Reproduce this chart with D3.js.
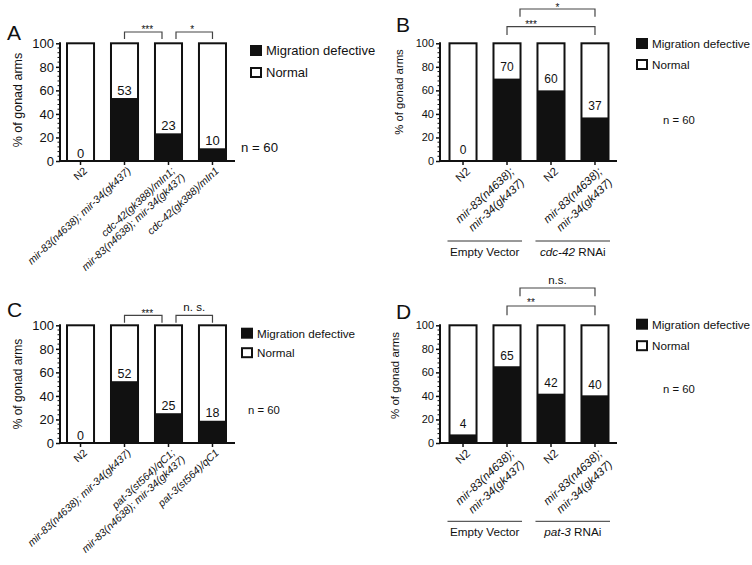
<!DOCTYPE html>
<html>
<head>
<meta charset="utf-8">
<script src="https://cdn.jsdelivr.net/npm/d3@7"></script>
<style>
  html, body { margin: 0; padding: 0; background: #fff; }
  svg { display: block; }
  text { font-family: "Liberation Sans", Arial, Helvetica, sans-serif; fill: #111; }
</style>
</head>
<body>
<svg id="chart" width="752" height="565"></svg>
<script>
// ---------------- DATA ----------------
const yTicks = [0, 20, 40, 60, 80, 100];
const legendLabels = ["Migration defective", "Normal"];
const nLabel = "n = 60";

// Panel A
const categoriesA = [["N2"], ["mir-83(n4638); mir-34(gk437)"], ["cdc-42(gk388)/mIn1;", "mir-83(n4638); mir-34(gk437)"], ["cdc-42(gk388)/mIn1"]];
const defectiveA = [0, 53.5, 23.5, 10.8];
const valueLabelsA = ["0", "53", "23", "10"];
const sigA = [{from: 1, to: 2, text: "***"}, {from: 2, to: 3, text: "*"}];

// Panel B
const categoriesB = [["N2"], ["mir-83(n4638);", "mir-34(gk437)"], ["N2"], ["mir-83(n4638);", "mir-34(gk437)"]];
const defectiveB = [0, 70, 60, 37];
const valueLabelsB = ["0", "70", "60", "37"];
const sigB = [{from: 1, to: 3, text: "***"}, {from: 2, to: 3, text: "*"}];
const groupsB = [{first: 0, last: 1, label: [["Empty Vector", false]]}, {first: 2, last: 3, label: [["cdc-42", true], [" RNAi", false]]}];

// Panel C
const categoriesC = [["N2"], ["mir-83(n4638); mir-34(gk437)"], ["pat-3(st564)/qC1;", "mir-83(n4638); mir-34(gk437)"], ["pat-3(st564)/qC1"]];
const defectiveC = [0, 52.5, 25.3, 18.9];
const valueLabelsC = ["0", "52", "25", "18"];
const sigC = [{from: 1, to: 2, text: "***"}, {from: 2, to: 3, text: "n. s."}];

// Panel D
const categoriesD = [["N2"], ["mir-83(n4638);", "mir-34(gk437)"], ["N2"], ["mir-83(n4638);", "mir-34(gk437)"]];
const defectiveD = [7.3, 65.2, 41.9, 40.5];
const valueLabelsD = ["4", "65", "42", "40"];
const sigD = [{from: 1, to: 3, text: "**"}, {from: 2, to: 3, text: "n.s."}];
const groupsD = [{first: 0, last: 1, label: [["Empty Vector", false]]}, {first: 2, last: 3, label: [["pat-3", true], [" RNAi", false]]}];

// ---------------- LAYOUT ----------------
const svg = d3.select("#chart");

const panels = [
  { letter: "A", cats: categoriesA, vals: defectiveA, labels: valueLabelsA, sig: sigA, groups: null,
    ax: 60, ay: 43.3, letterX: 7, letterY: 40,
    tickFont: 13, valFont: 13, valGap: 3.5, xFont: 10.5, lineGap: 1.1, legFont: 13, titleFont: 12.5,
    titleX: 22, titleY: 100,
    legX: 250, legY: 45, legGap: 22, nX: 241, nY: 152, nFont: 13.2,
    sigLevels: [{y: 32, leg: 7}, {y: 32, leg: 7}], starFont: 10 },
  { letter: "B", cats: categoriesB, vals: defectiveB, labels: valueLabelsB, sig: sigB, groups: groupsB,
    ax: 440, ay: 43.3, letterX: 396, letterY: 32,
    tickFont: 11, valFont: 12, valGap: 7.5, xFont: 11.5, lineGap: 1.3, legFont: 11.7, titleFont: 11.3,
    titleX: 403, titleY: 92,
    legX: 636, legY: 38, legGap: 21, nX: 663, nY: 124, nFont: 11.3,
    groupY: 241, groupTextY: 255.5, groupFont: 11.7,
    sigLevels: [{y: 26.7, leg: 8.3}, {y: 9, leg: 7.7}], starFont: 10 },
  { letter: "C", cats: categoriesC, vals: defectiveC, labels: valueLabelsC, sig: sigC, groups: null,
    ax: 60, ay: 325.3, letterX: 7, letterY: 317,
    tickFont: 13, valFont: 12.5, valGap: 3.5, xFont: 10.5, lineGap: 1.1, legFont: 11.7, titleFont: 12,
    titleX: 21.5, titleY: 384,
    legX: 241, legY: 327.7, legGap: 19.5, nX: 248, nY: 414, nFont: 11.3,
    sigLevels: [{y: 315.3, leg: 7.4}, {y: 315.3, leg: 7.4}], starFont: 10 },
  { letter: "D", cats: categoriesD, vals: defectiveD, labels: valueLabelsD, sig: sigD, groups: groupsD,
    ax: 440, ay: 325.3, letterX: 396, letterY: 318.7,
    tickFont: 11, valFont: 12, valGap: 6.5, xFont: 11.5, lineGap: 1.3, legFont: 11.7, titleFont: 11.5,
    titleX: 399, titleY: 375.5,
    legX: 636, legY: 318.7, legGap: 21.5, nX: 663, nY: 393, nFont: 11.3,
    groupY: 521.3, groupTextY: 536, groupFont: 11.7,
    sigLevels: [{y: 306, leg: 9.3}, {y: 288, leg: 8.3}], starFont: 10 }
];

// Bracket x endpoints (offsets from bar centres), per panel
const bracketXs = {
  A: [[0, -6.5], [7.5, 0]],
  B: [[0, 0], [-31, 0]],
  C: [[0, -6.5], [7.5, 0]],
  D: [[0, 0], [-31, 0]]
};
// Significance text offsets [dx from bracket centre, dy from bracket line]
const sigTextShift = {
  A: [[4, 1], [-2, 1]],
  B: [[-20, 1], [0, 1.5]],
  C: [[4, 1.5], [0, -2]],
  D: [[-20, 0], [0, -2]]
};

panels.forEach(p => {
  const g = svg.append("g");
  const isAC = (p.letter === "A" || p.letter === "C");
  const x0 = p.ax;
  const barStart = isAC ? 6 : 8.5;
  const x = d3.scaleBand()
    .domain(d3.range(p.cats.length))
    .range([x0 + barStart, x0 + barStart + 161])
    .paddingInner(0.34).paddingOuter(0);
  const axisEnd = isAC ? x0 + 175 : x0 + 177;
  const y = d3.scaleLinear().domain([0, 100]).range([p.ay + 117.7, p.ay]);
  const bw = x.bandwidth();

  // Panel letter
  g.append("text").attr("x", p.letterX).attr("y", p.letterY)
    .attr("font-size", 21).text(p.letter);

  // Bars: full white (Normal) outline + black defective part
  const bars = g.selectAll("g.bar").data(p.vals).enter().append("g");
  bars.append("rect")
    .attr("x", (d, i) => x(i) + 1).attr("width", bw - 2)
    .attr("y", y(100)).attr("height", y(0) - y(100))
    .attr("fill", "#fff").attr("stroke", "#111").attr("stroke-width", 2);
  bars.append("rect")
    .attr("x", (d, i) => x(i) + 1).attr("width", bw - 2)
    .attr("y", d => y(d)).attr("height", d => y(0) - y(d))
    .attr("fill", "#111");
  bars.append("text")
    .attr("x", (d, i) => x(i) + bw / 2)
    .attr("y", d => y(d) - p.valGap)
    .attr("text-anchor", "middle").attr("font-size", p.valFont)
    .text((d, i) => p.labels[i]);

  // Y axis
  const yAxis = d3.axisLeft(y).tickValues(yTicks).tickSize(4).tickPadding(2);
  const ya = g.append("g").attr("transform", `translate(${x0},0)`).call(yAxis);
  ya.select(".domain").remove();
  ya.selectAll(".tick line").attr("stroke", "#111").attr("stroke-width", 1.5);
  ya.selectAll(".tick text").attr("font-size", p.tickFont).attr("fill", "#111")
    .style("font-family", '"Liberation Sans", Arial, sans-serif');
  // minor ticks
  const minor = d3.range(0, 101, 4).filter(v => v % 20 !== 0);
  g.selectAll("line.minor").data(minor).enter().append("line")
    .attr("x1", x0 - 2.5).attr("x2", x0).attr("y1", d => y(d)).attr("y2", d => y(d))
    .attr("stroke", "#111").attr("stroke-width", 1);
  g.append("line").attr("x1", x0).attr("x2", x0).attr("y1", y(100) - 1).attr("y2", y(0) + 1)
    .attr("stroke", "#111").attr("stroke-width", 2);

  // X axis
  g.append("line").attr("x1", x0 - 1).attr("x2", axisEnd).attr("y1", y(0)).attr("y2", y(0))
    .attr("stroke", "#111").attr("stroke-width", 2);
  g.selectAll("line.xt").data(p.cats).enter().append("line")
    .attr("x1", (d, i) => x(i) + bw / 2).attr("x2", (d, i) => x(i) + bw / 2)
    .attr("y1", y(0)).attr("y2", y(0) + 4)
    .attr("stroke", "#111").attr("stroke-width", 1.5);

  // X labels (rotated)
  p.cats.forEach((lines, i) => {
    const cx = x(i) + bw / 2;
    const t = g.append("text")
      .attr("transform", `translate(${cx},${y(0) + 3}) rotate(-43)`)
      .attr("text-anchor", "end").attr("font-size", p.xFont);
    lines.forEach((ln, k) => {
      t.append("tspan").attr("x", k === 0 ? 0 : (isAC ? 3 : 0))
        .attr("dy", k === 0 ? "1.0em" : p.lineGap + "em")
        .attr("font-style", ln === "N2" ? "normal" : "italic")
        .text(ln);
    });
  });

  // Y title
  g.append("text")
    .attr("transform", `translate(${p.titleX},${p.titleY}) rotate(-90)`)
    .attr("text-anchor", "middle").attr("font-size", p.titleFont)
    .attr("fill", "#333")
    .text("% of gonad arms");

  // Legend
  legendLabels.forEach((lab, k) => {
    const ly = p.legY + k * p.legGap;
    g.append("rect").attr("x", p.legX + 1).attr("y", ly + 1).attr("width", 10).attr("height", 9)
      .attr("fill", k === 0 ? "#111" : "#fff").attr("stroke", "#111").attr("stroke-width", 2);
    g.append("text").attr("x", p.legX + 16).attr("y", ly + 10).attr("font-size", p.legFont)
      .text(lab);
  });

  // n = 60
  g.append("text").attr("x", p.nX).attr("y", p.nY).attr("font-size", p.nFont).text(nLabel);

  // Significance brackets
  p.sig.forEach((s, k) => {
    const lv = p.sigLevels[k];
    const off = bracketXs[p.letter][k];
    const xa = x(s.from) + bw / 2 + off[0];
    const xb = x(s.to) + bw / 2 + off[1];
    g.append("path")
      .attr("d", `M${xa},${lv.y + lv.leg} V${lv.y} H${xb} V${lv.y + lv.leg}`)
      .attr("fill", "none").attr("stroke", "#444").attr("stroke-width", 1.2);
    const sh = sigTextShift[p.letter][k];
    const isStars = s.text.indexOf("*") >= 0;
    g.append("text")
      .attr("x", (xa + xb) / 2 + sh[0])
      .attr("y", isStars ? lv.y + sh[1] : lv.y - 2 + sh[1])
      .attr("text-anchor", "middle")
      .attr("font-size", isStars ? p.starFont : 11.5)
      .attr("fill", "#333")
      .text(s.text);
  });

  // Group labels
  if (p.groups) {
    p.groups.forEach(gr => {
      const xa = x(gr.first) - 1;
      const xb = x(gr.last) + bw + 0.5;
      g.append("line").attr("x1", xa).attr("x2", xb).attr("y1", p.groupY).attr("y2", p.groupY)
        .attr("stroke", "#333").attr("stroke-width", 1);
      const t = g.append("text").attr("x", (xa + xb) / 2).attr("y", p.groupTextY)
        .attr("text-anchor", "middle").attr("font-size", p.groupFont);
      gr.label.forEach(([s, it]) => {
        t.append("tspan").attr("font-style", it ? "italic" : "normal").text(s);
      });
    });
  }
});
</script>
</body>
</html>
